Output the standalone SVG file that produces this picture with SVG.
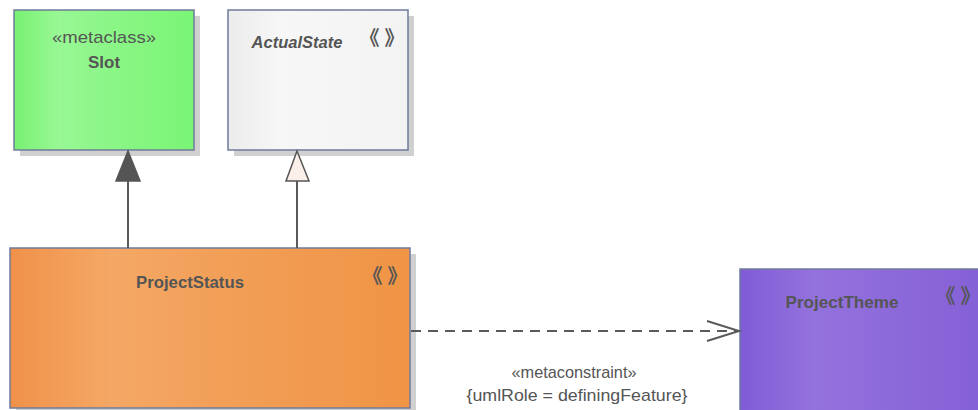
<svg xmlns="http://www.w3.org/2000/svg" width="978" height="410" viewBox="0 0 978 410">
<style>
.box{stroke:#6f7b9b;stroke-width:1.5}
.sh{fill:#d0d0d0}
.t{font-family:"Liberation Sans",Arial,sans-serif;fill:#555;text-anchor:middle;font-size:17px}
.b{font-weight:bold}
.ic{font-family:"Noto Sans CJK JP",sans-serif;font-size:20px;fill:#555;text-anchor:middle;font-weight:bold}
.ln{stroke:#5a5a5a;stroke-width:2;fill:none}
</style>
<defs>
<linearGradient id="gG" x1="0" x2="1" y1="0" y2="0"><stop offset="0" stop-color="#78f072"/><stop offset="0.25" stop-color="#98f894"/><stop offset="0.5" stop-color="#8cf688"/><stop offset="1" stop-color="#7af575"/></linearGradient>
<linearGradient id="gW" x1="0" x2="1" y1="0" y2="0"><stop offset="0" stop-color="#ececec"/><stop offset="0.3" stop-color="#f7f7f7"/><stop offset="1" stop-color="#f3f3f3"/></linearGradient>
<linearGradient id="gO" x1="0" x2="1" y1="0" y2="0"><stop offset="0" stop-color="#f0914a"/><stop offset="0.25" stop-color="#f4a865"/><stop offset="0.5" stop-color="#f2a059"/><stop offset="1" stop-color="#f09445"/></linearGradient>
<linearGradient id="gP" x1="0" x2="1" y1="0" y2="0"><stop offset="0" stop-color="#7f5cd6"/><stop offset="0.3" stop-color="#9472dd"/><stop offset="1" stop-color="#8460d6"/></linearGradient>
</defs>
<g id="Slot">
<rect class="sh" x="20" y="16" width="180" height="140"/>
<rect class="box" x="14" y="10" width="180" height="140" fill="url(#gG)"/>
<text class="t" x="104" y="43" textLength="104" lengthAdjust="spacingAndGlyphs">«metaclass»</text>
<text class="t b" x="104" y="68">Slot</text>
</g>
<g id="ActualState">
<rect class="sh" x="234" y="16" width="180" height="140"/>
<rect class="box" x="228" y="10" width="180" height="140" fill="url(#gW)"/>
<text class="t b" x="297" y="48" font-style="italic" textLength="91" lengthAdjust="spacingAndGlyphs">ActualState</text>
<text class="ic" x="382" y="45">《<tspan dx="5">》</tspan></text>
</g>
<g id="ProjectStatus">
<rect class="sh" x="16" y="254" width="400" height="160"/>
<rect class="box" x="10" y="248" width="400" height="160" fill="url(#gO)"/>
<text class="t b" x="190" y="288" textLength="108" lengthAdjust="spacingAndGlyphs">ProjectStatus</text>
<text class="ic" x="385" y="283">《<tspan dx="5">》</tspan></text>
</g>
<g id="ProjectTheme">
<rect class="box" x="740" y="269" width="245" height="150" fill="url(#gP)"/>
<text class="t b" x="842" y="308" textLength="113" lengthAdjust="spacingAndGlyphs">ProjectTheme</text>
<text class="ic" x="958" y="303">《<tspan dx="5">》</tspan></text>
</g>
<g id="connectors">
<line class="ln" x1="128" y1="248" x2="128" y2="181"/>
<polygon points="128,151 116,181 140,181" fill="#555" stroke="#555" stroke-width="1.5"/>
<line class="ln" x1="297" y1="248" x2="297" y2="181"/>
<polygon points="297,151 286,181 309,181" fill="#fbefe9" stroke="#555" stroke-width="1.5"/>
<line class="ln" x1="411" y1="331" x2="738" y2="331" stroke-dasharray="10,7"/>
<polyline class="ln" points="707,321 739,331 707,341"/>
<text class="t" x="574" y="378" textLength="125" lengthAdjust="spacingAndGlyphs">«metaconstraint»</text>
<text class="t" x="577" y="401" textLength="221" lengthAdjust="spacingAndGlyphs">{umlRole = definingFeature}</text>
</g>
</svg>
